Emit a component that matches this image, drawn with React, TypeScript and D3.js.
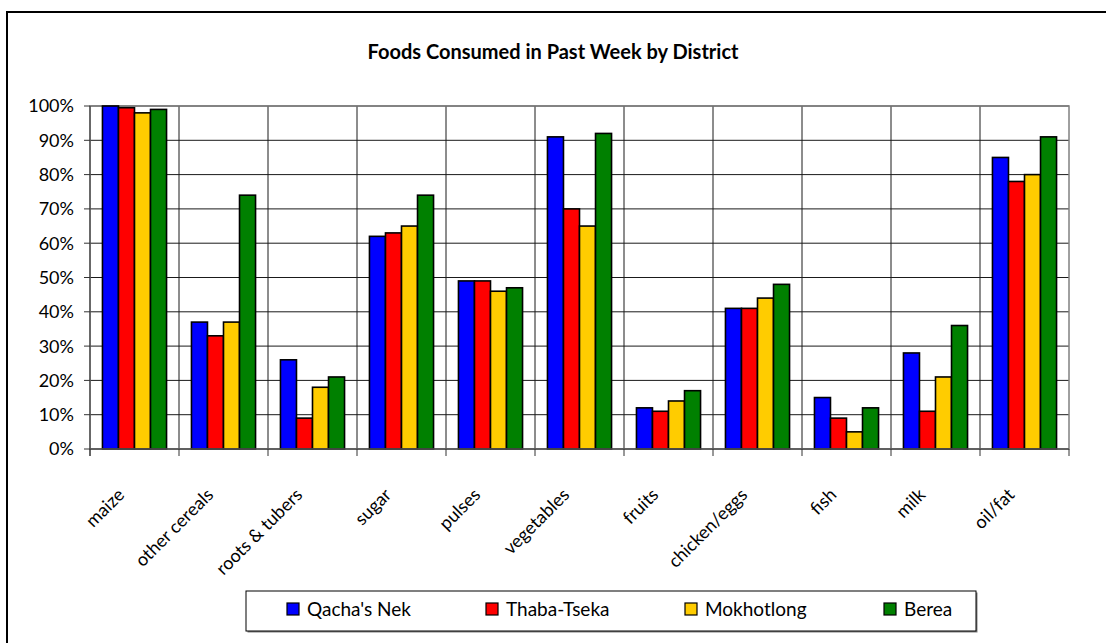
import * as d3 from 'd3';
import React from 'react';

// chart data
const categories = ['maize', 'other cereals', 'roots & tubers', 'sugar', 'pulses', 'vegetables', 'fruits', 'chicken/eggs', 'fish', 'milk', 'oil/fat'];
const seriesNames = ["Qacha's Nek", 'Thaba-Tseka', 'Mokhotlong', 'Berea'];
const qachasNek = [100, 37, 26, 62, 49, 91, 12, 41, 15, 28, 85];
const thabaTseka = [99.5, 33, 9, 63, 49, 70, 11, 41, 9, 11, 78];
const mokhotlong = [98, 37, 18, 65, 46, 65, 14, 44, 5, 21, 80];
const berea = [99, 74, 21, 74, 47, 92, 17, 48, 12, 36, 91];
const yTicks = [0, 10, 20, 30, 40, 50, 60, 70, 80, 90, 100];
const colors = ['#0000ff', '#ff0000', '#ffcc00', '#008000'];

const seriesValues = [qachasNek, thabaTseka, mokhotlong, berea];

const width = 1106;
const height = 643;
const plot = { left: 90, right: 1069, top: 106, bottom: 449 };
const font = 'Lato, "Open Sans", sans-serif';

const App = () => {
  const xScale = d3
    .scaleBand<string>()
    .domain(categories)
    .range([plot.left, plot.right])
    .paddingInner(0.28)
    .paddingOuter(0.14);

  const inner = d3
    .scaleBand<number>()
    .domain(d3.range(seriesNames.length))
    .range([0, xScale.bandwidth()]);

  const yScale = d3.scaleLinear().domain([0, 100]).range([plot.bottom, plot.top]);

  const step = (plot.right - plot.left) / categories.length;
  const boundaries = d3.range(categories.length + 1).map(i => plot.left + i * step);

  // legend layout
  const legend = { x: 246, y: 591, w: 730, h: 40 };
  const legendItemX = (i: number) => 287 + i * 199;

  return (
    <svg width={width} height={height} style={{ position: 'fixed', left: 0, top: 0, background: '#fff' }} fontFamily={font}>
      <rect x={0} y={0} width={width} height={height} fill="#fff" />
      {/* outer chart border, cut off by the window on right and bottom */}
      <rect x={7} y={12} width={width + 20} height={height + 20} fill="none" stroke="#000" strokeWidth={2} />

      <text x={553} y={59} textAnchor="middle" fontWeight="bold" fontSize={20}>
        Foods Consumed in Past Week by District
      </text>

      {/* gridlines */}
      {yTicks.map(t => (
        <line key={'h' + t} x1={plot.left} x2={plot.right} y1={yScale(t)} y2={yScale(t)} stroke="#1a1a1a" strokeWidth={1} />
      ))}
      {boundaries.slice(1, -1).map((b, i) => (
        <line key={'v' + i} x1={b} x2={b} y1={plot.top} y2={plot.bottom} stroke="#1a1a1a" strokeWidth={1} />
      ))}
      <rect x={plot.left} y={plot.top} width={plot.right - plot.left} height={plot.bottom - plot.top} fill="none" stroke="#808080" strokeWidth={1.5} />

      {/* bars */}
      {categories.map((c, ci) => (
        <g key={c} transform={`translate(${xScale(c)},0)`}>
          {seriesValues.map((vals, si) => (
            <rect
              key={si}
              x={inner(si)}
              y={yScale(vals[ci])}
              width={inner.bandwidth()}
              height={yScale(0) - yScale(vals[ci])}
              fill={colors[si]}
              stroke="#000"
              strokeWidth={1.6}
            />
          ))}
        </g>
      ))}

      {/* y axis */}
      <line x1={plot.left} x2={plot.left} y1={plot.top} y2={plot.bottom + 7} stroke="#333" />
      {yTicks.map(t => (
        <g key={'yt' + t}>
          <line x1={plot.left - 6} x2={plot.left} y1={yScale(t)} y2={yScale(t)} stroke="#333" />
          <text x={plot.left - 16} y={yScale(t)} dy="0.36em" textAnchor="end" fontSize={18} fill="#000">
            {t}%
          </text>
        </g>
      ))}

      {/* x axis */}
      <line x1={plot.left} x2={plot.right} y1={plot.bottom} y2={plot.bottom} stroke="#555" strokeWidth={1.5} />
      {boundaries.map((b, i) => (
        <line key={'xt' + i} x1={b} x2={b} y1={plot.bottom} y2={plot.bottom + 7} stroke="#333" />
      ))}
      {categories.map(c => {
        const cx = (xScale(c) as number) + xScale.bandwidth() / 2 - 9;
        const cy = plot.bottom + 47;
        return (
          <text key={'xl' + c} x={cx} y={cy} textAnchor="end" fontSize={18} transform={`rotate(-45,${cx},${cy})`}>
            {c}
          </text>
        );
      })}

      {/* legend */}
      <rect x={legend.x + 1.5} y={legend.y + 1.5} width={legend.w} height={legend.h} fill="#808080" />
      <rect x={legend.x} y={legend.y} width={legend.w} height={legend.h} fill="#fff" stroke="#000" strokeWidth={1} />
      {seriesNames.map((n, i) => (
        <g key={n}>
          <rect x={legendItemX(i)} y={legend.y + 12} width={12} height={12} fill={colors[i]} stroke="#000" strokeWidth={1.2} />
          <text x={legendItemX(i) + 20} y={legend.y + 25} fontSize={19}>
            {n}
          </text>
        </g>
      ))}
    </svg>
  );
};

export default App;
